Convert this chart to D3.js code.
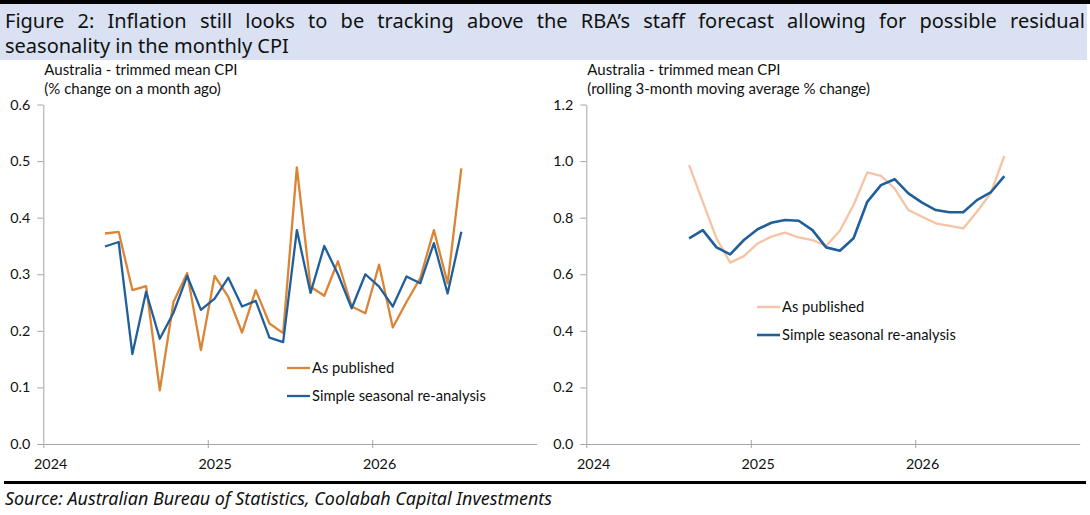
<!DOCTYPE html>
<html>
<head>
<meta charset="utf-8">
<script src="https://cdn.jsdelivr.net/npm/d3@7"></script>
<style>
  html, body { margin: 0; padding: 0; background: #ffffff; }
  svg { display: block; }
</style>
</head>
<body>
<svg id="chart" width="1090" height="515"></svg>
<script>
// ---------------- DATA ----------------
const titleLine1 = "Figure 2: Inflation still looks to be tracking above the RBA\u2019s staff forecast allowing for possible residual";
const titleLine2 = "seasonality in the monthly CPI";
const sourceText = "Source: Australian Bureau of Statistics, Coolabah Capital Investments";

const yearLabels = ["2024", "2025", "2026"];
const yearTickMonths = [0, 12, 24];           // month index from Jan 2024

// Left panel: monthly % change, May 2024 (index 4) to Jul 2026 (index 30)
const leftStartMonth = 4;
const leftPublished = [0.372, 0.375, 0.272, 0.279, 0.095, 0.251, 0.302, 0.166, 0.297, 0.260,
                       0.197, 0.272, 0.213, 0.196, 0.489, 0.278, 0.262, 0.323, 0.243, 0.231,
                       0.317, 0.206, 0.251, 0.293, 0.378, 0.284, 0.487];
const leftSeasonal  = [0.349, 0.357, 0.159, 0.269, 0.186, 0.232, 0.297, 0.237, 0.257, 0.294,
                       0.243, 0.253, 0.188, 0.180, 0.378, 0.267, 0.350, 0.300, 0.240, 0.300,
                       0.278, 0.243, 0.296, 0.284, 0.355, 0.266, 0.375];
const leftYTicks = [0, 0.1, 0.2, 0.3, 0.4, 0.5, 0.6];

// Right panel: rolling 3-month average, Aug 2024 (index 7) to Jul 2026 (index 30)
const rightStartMonth = 7;
const rightPublished = [0.986, 0.856, 0.727, 0.641, 0.664, 0.709, 0.733, 0.747, 0.730, 0.721,
                        0.700, 0.754, 0.845, 0.960, 0.948, 0.903, 0.827, 0.803, 0.780, 0.771,
                        0.762, 0.821, 0.886, 1.018];
const rightSeasonal  = [0.727, 0.756, 0.695, 0.670, 0.721, 0.759, 0.782, 0.792, 0.789, 0.756,
                        0.695, 0.683, 0.727, 0.856, 0.915, 0.936, 0.886, 0.853, 0.827, 0.819,
                        0.819, 0.862, 0.889, 0.947];
const rightYTicks = [0, 0.2, 0.4, 0.6, 0.8, 1.0, 1.2];

const seriesNames = ["As published", "Simple seasonal re-analysis"];

// ---------------- DRAW ----------------
const svg = d3.select("#chart");
const chartFont = "Lato, 'Open Sans', sans-serif";
const titleFont = "'Noto Sans', 'Open Sans', sans-serif";

// top black rule
svg.append("rect").attr("x", 0).attr("y", 0).attr("width", 1090).attr("height", 4).attr("fill", "#000");
// title band
svg.append("rect").attr("x", 0).attr("y", 4).attr("width", 1087).attr("height", 56).attr("fill", "#D9E1F2");

const t1 = svg.append("text").attr("x", 5).attr("y", 28)
  .attr("font-family", titleFont).attr("font-size", 20).attr("fill", "#111")
  .text(titleLine1);
// justify line 1 across the band width via word spacing
(function justify() {
  const target = 1080;
  const natural = t1.node().getComputedTextLength();
  const spaces = (titleLine1.match(/ /g) || []).length;
  if (natural < target && spaces > 0) t1.attr("word-spacing", (target - natural) / spaces);
})();
svg.append("text").attr("x", 5).attr("y", 53)
  .attr("font-family", titleFont).attr("font-size", 20).attr("fill", "#111")
  .text(titleLine2);

// bottom rule + source
svg.append("rect").attr("x", 4).attr("y", 481).attr("width", 1082).attr("height", 3).attr("fill", "#000");
svg.append("text").attr("x", 5).attr("y", 505)
  .attr("font-family", titleFont).attr("font-size", 17.9).attr("font-style", "italic").attr("fill", "#111")
  .text(sourceText);

function panel(opts) {
  const g = svg.append("g");
  const x = d3.scaleLinear().domain([0, 36]).range([opts.x0, opts.x1]);
  const y = d3.scaleLinear().domain([0, opts.yMax]).range([444, 104.5]);
  const halfMonth = x(0.5) - x(0);

  // y axis
  const yAxis = d3.axisLeft(y).tickValues(opts.yTicks).tickFormat(d3.format(".1f"))
    .tickSizeInner(6).tickSizeOuter(0).tickPadding(7);
  const gy = g.append("g").attr("transform", `translate(${opts.x0},0)`).call(yAxis);
  gy.select(".domain").attr("stroke", "#a6a6a6");
  gy.selectAll(".tick line").attr("stroke", "#a6a6a6");
  gy.selectAll(".tick text").attr("font-family", chartFont).attr("font-size", opts.tickFont).attr("fill", "#111");

  // x axis
  const xAxis = d3.axisBottom(x).tickValues(yearTickMonths)
    .tickFormat((d, i) => yearLabels[i]).tickSizeInner(4).tickSizeOuter(0).tickPadding(11);
  const gx = g.append("g").attr("transform", `translate(0,${y(0)})`).call(xAxis);
  gx.select(".domain").attr("stroke", "#a6a6a6");
  gx.selectAll(".tick line").attr("stroke", "#a6a6a6").attr("y1", (d) => d === 0 ? 0 : -4);
  gx.selectAll(".tick text").attr("font-family", chartFont).attr("font-size", opts.tickFont)
    .attr("fill", "#111").attr("dx", halfMonth);

  // subtitle
  opts.subtitle.forEach((s, i) => {
    g.append("text").attr("x", opts.x0 + 1).attr("y", 75 + i * 19)
      .attr("font-family", chartFont).attr("font-size", opts.subFont).attr("fill", "#111").text(s);
  });

  // lines
  const line = d3.line().x((d, i) => x(opts.start + i + 0.5)).y((d) => y(d));
  opts.series.forEach((s) => {
    g.append("path").datum(s.values).attr("d", line).attr("fill", "none")
      .attr("stroke", s.color).attr("stroke-width", s.width)
      .attr("stroke-linejoin", "round").attr("stroke-linecap", "butt");
  });

  // legend
  opts.series.forEach((s, i) => {
    const ly = opts.legendY[i];
    g.append("line").attr("x1", opts.legendX).attr("x2", opts.legendX + 23)
      .attr("y1", ly).attr("y2", ly).attr("stroke", s.color).attr("stroke-width", s.width);
    g.append("text").attr("x", opts.legendX + 25).attr("y", ly).attr("dy", "0.35em")
      .attr("font-family", chartFont).attr("font-size", opts.legendFont).attr("fill", "#111")
      .text(s.name);
  });
}

panel({
  x0: 43.3, x1: 536.7, yMax: 0.6, yTicks: leftYTicks, start: leftStartMonth,
  subtitle: ["Australia - trimmed mean CPI", "(% change on a month ago)"],
  tickFont: 14.3, subFont: 15, legendFont: 14.7,
  legendX: 287, legendY: [368, 396],
  series: [
    { name: seriesNames[0], values: leftPublished, color: "#DA8536", width: 2.3 },
    { name: seriesNames[1], values: leftSeasonal, color: "#215F9A", width: 2.3 }
  ]
});

panel({
  x0: 586.3, x1: 1079.7, yMax: 1.2, yTicks: rightYTicks, start: rightStartMonth,
  subtitle: ["Australia - trimmed mean CPI", "(rolling 3-month moving average % change)"],
  tickFont: 14.3, subFont: 15, legendFont: 14.7,
  legendX: 757, legendY: [307, 335],
  series: [
    { name: seriesNames[0], values: rightPublished, color: "#F6C3A4", width: 2.3 },
    { name: seriesNames[1], values: rightSeasonal, color: "#215F9A", width: 2.6 }
  ]
});
</script>
</body>
</html>
